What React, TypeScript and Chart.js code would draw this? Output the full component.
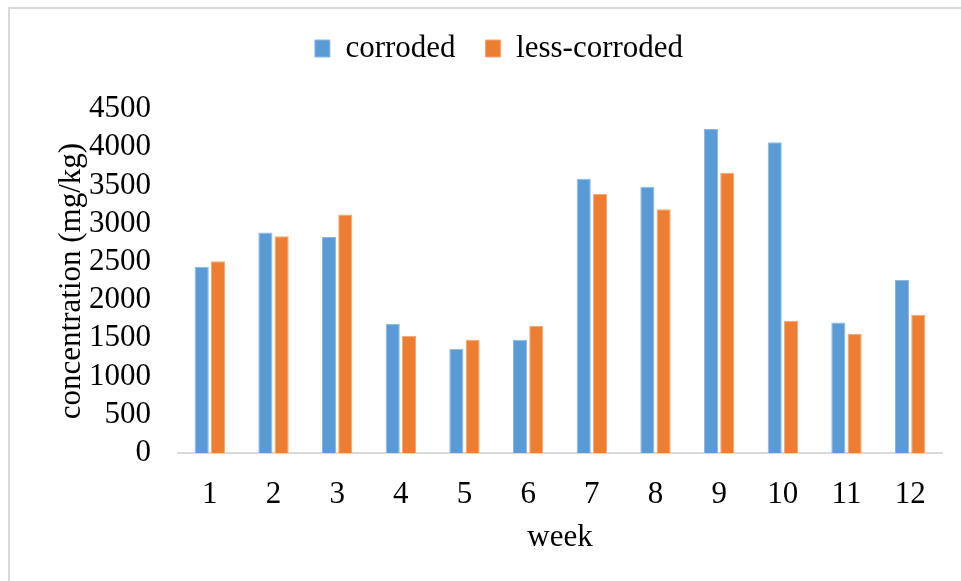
import React, { useEffect, useRef } from "react";
import { Chart, registerables } from "chart.js";

Chart.register(...registerables);

const weeks = ["1", "2", "3", "4", "5", "6", "7", "8", "9", "10", "11", "12"];
const corroded = [2435, 2886, 2825, 1690, 1365, 1482, 3588, 3484, 4238, 4065, 1707, 2262];
const lessCorroded = [2509, 2834, 3120, 1534, 1482, 1664, 3389, 3189, 3666, 1729, 1560, 1807];
const yTicks = [0, 500, 1000, 1500, 2000, 2500, 3000, 3500, 4000, 4500];

const FONT = "'Liberation Serif', 'Times New Roman', serif";

const legendGap = {
  id: "legendGap",
  beforeInit(chart: any) {
    if (!chart.legend) return;
    const orig = chart.legend.fit;
    chart.legend.fit = function () {
      orig.bind(chart.legend)();
      this.height += 35;
    };
  },
};

export default function App() {
  const ref = useRef<HTMLCanvasElement>(null);
  useEffect(() => {
    if (!ref.current) return;
    const chart = new Chart(ref.current, {
      type: "bar",
      data: {
        labels: weeks,
        datasets: [
          {
            label: "corroded",
            data: corroded,
            backgroundColor: "#5B9BD5",
            borderColor: "#8DB9E3",
            borderWidth: 1,
            categoryPercentage: 0.51,
            barPercentage: 0.87,
          },
          {
            label: "less-corroded",
            data: lessCorroded,
            backgroundColor: "#ED7D31",
            borderColor: "#F2A876",
            borderWidth: 1,
            categoryPercentage: 0.51,
            barPercentage: 0.87,
          },
        ],
      },
      options: {
        animation: false,
        responsive: false,
        devicePixelRatio: 1,
        layout: { padding: { top: 3, left: 56, right: 19, bottom: 25 } },
        plugins: {
          tooltip: { enabled: false },
          legend: {
            position: "top",
            labels: {
              color: "#000",
              font: { family: FONT, size: 31 },
              boxWidth: 15,
              boxHeight: 17,
              padding: 30,
            },
          },
        },
        scales: {
          x: {
            grid: { display: false, drawTicks: false },
            border: { display: true, color: "#d9d9d9", width: 2 },
            ticks: { color: "#000", font: { family: FONT, size: 31 }, padding: 23, maxRotation: 0 },
            afterFit: (axis: any) => {
              axis.height = 103;
            },
            title: {
              display: true,
              text: "week",
              color: "#000",
              font: { family: FONT, size: 31, lineHeight: 1.2 },
              padding: { top: 5, bottom: 0 },
            },
          },
          y: {
            min: 0,
            max: 4500,
            grid: { display: false, drawTicks: false },
            border: { display: false },
            afterBuildTicks: (axis: any) => {
              axis.ticks = yTicks.map((v) => ({ value: v }));
            },
            afterFit: (axis: any) => {
              axis.width = 122;
            },
            ticks: {
              color: "#000",
              font: { family: FONT, size: 31 },
              padding: 27,
              autoSkip: false,
              callback: (v: any) => String(v),
            },
            title: {
              display: true,
              text: "concentration (mg/kg)",
              color: "#000",
              font: { family: FONT, size: 31, lineHeight: 1.0 },
              padding: 0,
            },
          },
        },
      },
      plugins: [legendGap],
    });
    return () => chart.destroy();
  }, []);

  return (
    <div style={{ position: "fixed", left: 0, top: 0, width: 961, height: 581, background: "#fff", overflow: "hidden" }}>
      <div
        style={{
          position: "absolute",
          left: 8,
          top: 7,
          width: 1000,
          height: 700,
          borderLeft: "2px solid #d9d9d9",
          borderTop: "2px solid #d9d9d9",
        }}
      />
      <canvas ref={ref} width={961} height={581} style={{ position: "absolute", left: 0, top: 0, width: 961, height: 581 }} />
    </div>
  );
}
